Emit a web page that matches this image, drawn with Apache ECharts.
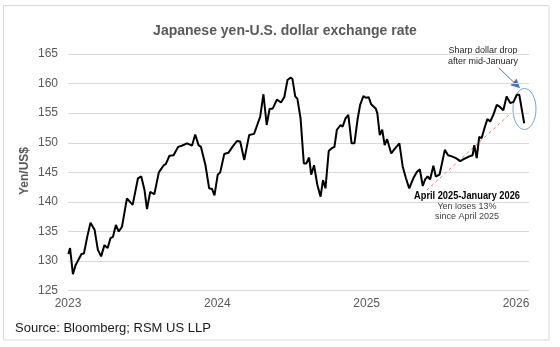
<!DOCTYPE html>
<html>
<head>
<meta charset="utf-8">
<script src="https://cdn.jsdelivr.net/npm/echarts@6/dist/echarts.min.js"></script>
<style>
html,body{margin:0;padding:0;background:#fff;}
#c{width:560px;height:347px;}
</style>
</head>
<body>
<div id="c"></div>
<script>
// Weekly-ish USD/JPY readings
const dates = [
'2023-01-02','2023-01-06','2023-01-13','2023-01-20','2023-01-24','2023-02-03','2023-02-09','2023-02-17','2023-02-25','2023-03-07',
'2023-03-15','2023-03-23','2023-03-31','2023-04-08','2023-04-15','2023-04-21','2023-04-28','2023-05-05','2023-05-13','2023-05-25',
'2023-06-08','2023-06-21','2023-06-29','2023-07-07','2023-07-13','2023-07-21','2023-07-31','2023-08-11','2023-08-23','2023-08-28',
'2023-09-06','2023-09-16','2023-09-27','2023-10-06','2023-10-19','2023-10-31','2023-11-08','2023-11-16','2023-11-22','2023-12-03',
'2023-12-12','2023-12-19','2023-12-25','2024-01-02','2024-01-08','2024-01-18','2024-01-28','2024-02-07','2024-02-18','2024-02-26',
'2024-03-07','2024-03-19','2024-03-31','2024-04-15','2024-04-23','2024-05-01','2024-05-08','2024-05-16','2024-05-26','2024-06-05',
'2024-06-13','2024-06-21','2024-06-28','2024-07-03','2024-07-10','2024-07-15','2024-07-23','2024-07-31','2024-08-06','2024-08-13',
'2024-08-18','2024-08-25','2024-09-02','2024-09-10','2024-09-16','2024-09-22','2024-09-30','2024-10-08','2024-10-14','2024-10-20',
'2024-10-29','2024-11-03','2024-11-10','2024-11-17','2024-11-25','2024-12-02','2024-12-10','2024-12-16','2024-12-24','2024-12-30',
'2025-01-06','2025-01-12','2025-01-23','2025-01-27','2025-02-02','2025-02-08','2025-02-14','2025-02-20','2025-03-02','2025-03-12',
'2025-03-22','2025-03-30','2025-04-07','2025-04-15','2025-04-25','2025-05-04','2025-05-11','2025-05-18','2025-05-24','2025-05-30',
'2025-06-05','2025-06-13','2025-06-19','2025-06-28','2025-07-04','2025-07-11','2025-07-19','2025-07-28','2025-08-07','2025-08-18',
'2025-08-28','2025-09-09','2025-09-17','2025-09-21','2025-09-27','2025-10-03','2025-10-09','2025-10-17','2025-10-23','2025-10-30',
'2025-11-07','2025-11-15','2025-11-22','2025-12-01','2025-12-09','2025-12-18','2025-12-26','2026-01-03','2026-01-09','2026-01-21'
];
const yen = [
131.2,132.2,127.8,129.4,129.9,131.2,131.3,134.1,136.5,135.3,
131.9,130.8,132.7,132.2,133.9,134.1,136.1,135.0,135.8,140.6,
139.5,144.0,144.3,142.0,138.8,141.7,141.3,145.0,146.2,146.4,
147.8,147.9,149.3,149.5,149.9,149.5,151.4,149.6,149.3,146.2,
142.3,142.2,141.1,144.6,145.0,148.1,148.3,149.3,150.3,150.2,
147.1,151.3,151.5,154.4,158.2,153.0,155.7,155.8,157.3,156.8,
157.7,160.6,161.0,160.8,157.8,157.5,154.1,146.5,146.5,147.5,
144.6,146.2,142.9,140.9,143.7,142.3,148.6,149.1,149.3,152.2,
153.0,152.7,154.1,154.7,149.9,149.9,154.1,156.4,157.9,157.6,
157.7,156.5,155.8,155.0,151.3,152.2,149.6,150.6,148.2,149.1,
149.9,146.0,144.0,142.3,144.0,145.1,145.5,142.7,143.8,144.3,
143.8,146.1,144.3,144.6,146.5,148.8,147.9,147.7,147.4,146.9,
147.3,147.7,147.9,149.6,147.4,151.0,150.8,152.7,154.0,153.6,
154.8,156.4,156.1,155.5,157.8,156.7,156.9,158.1,158.1,153.3
];
const yTicks = [125,130,135,140,145,150,155,160,165];
const yearTicks = [2023,2024,2025,2026];
const trendFrom = ['2025-05-28', 142.0];
const trendTo = ['2025-12-18', 154.9];

function decYear(s){
  const d = Date.parse(s + 'T00:00:00Z');
  const y = new Date(d).getUTCFullYear();
  const a = Date.UTC(y,0,1), b = Date.UTC(y+1,0,1);
  return y + (d - a) / (b - a);
}
const seriesData = dates.map((d,i)=>[decYear(d), yen[i]]);

const FONT = "'Liberation Sans', Arial, sans-serif";
const chart = echarts.init(document.getElementById('c'), null, {renderer:'canvas'});
chart.setOption({
  animation:false,
  backgroundColor:'#ffffff',
  title:{
    text:'Japanese yen-U.S. dollar exchange rate',
    left:280, top:19, textAlign:'center',
    textStyle:{fontFamily:FONT,fontSize:14,fontWeight:'bold',color:'#595959'}
  },
  grid:{left:68,right:31,top:54,bottom:56.3,containLabel:false},
  xAxis:{
    type:'value', min:yearTicks[0], max:2026.087, interval:1,
    axisLine:{show:false}, axisTick:{show:false}, splitLine:{show:false},
    axisLabel:{margin:7,fontFamily:FONT,fontSize:12,color:'#595959',
      formatter:v=> yearTicks.indexOf(v)>=0 ? String(v) : '', showMaxLabel:true}
  },
  yAxis:{
    type:'value', min:yTicks[0], max:yTicks[yTicks.length-1], interval:5,
    axisLine:{show:false}, axisTick:{show:false},
    splitLine:{lineStyle:{color:'#d9d9d9',width:1}},
    axisLabel:{margin:10,fontFamily:FONT,fontSize:12,color:'#595959'}
  },
  series:[{
    type:'line', data:seriesData, showSymbol:false, symbol:'none',
    lineStyle:{color:'#000000',width:2}, z:5,
    markLine:{
      silent:true, symbol:['none','none'], label:{show:false},
      lineStyle:{color:'#e8787a',type:[3,3],width:1},
      data:[[{coord:[decYear(trendFrom[0]),trendFrom[1]]},{coord:[decYear(trendTo[0]),trendTo[1]]}]]
    }
  }],
  graphic:[
    {type:'rect',shape:{x:3.5,y:5.5,width:545.5,height:334.5},style:{fill:'none',stroke:'#d9d9d9',lineWidth:1},z:-1},
    {type:'text',x:25,y:171,rotation:Math.PI/2,style:{x:0,y:0,text:'Yen/US$',textAlign:'center',textVerticalAlign:'middle',fontFamily:FONT,fontSize:12,fontWeight:'bold',fill:'#595959'}},
    {type:'text',style:{x:483,y:45,text:'Sharp dollar drop\nafter mid-January',textAlign:'center',fontFamily:FONT,fontSize:9,lineHeight:11,fill:'#262626'}},
    {type:'line',shape:{x1:499,y1:68,x2:514,y2:82.5},style:{stroke:'#4472c4',lineWidth:1}},
    {type:'polygon',shape:{points:[[520,88.3],[510.4,85.2],[516.6,78.8]]},style:{fill:'#4472c4'}},
    {type:'ellipse',shape:{cx:524.5,cy:109,rx:11.5,ry:20.5},style:{fill:'none',stroke:'#6fa8dc',lineWidth:1}},
    {type:'text',x:467,y:190,scaleX:0.84,style:{x:0,y:0,text:'April 2025-January 2026',textAlign:'center',fontFamily:FONT,fontSize:11,fontWeight:'bold',fill:'#000'}},
    {type:'text',style:{x:467,y:201,text:'Yen loses 13%\nsince April 2025',textAlign:'center',fontFamily:FONT,fontSize:9,lineHeight:10.5,fill:'#404040'}},
    {type:'text',style:{x:15,y:322,text:'Source: Bloomberg; RSM US LLP',fontFamily:FONT,fontSize:13,fill:'#1a1a1a'}}
  ]
});
</script>
</body>
</html>
